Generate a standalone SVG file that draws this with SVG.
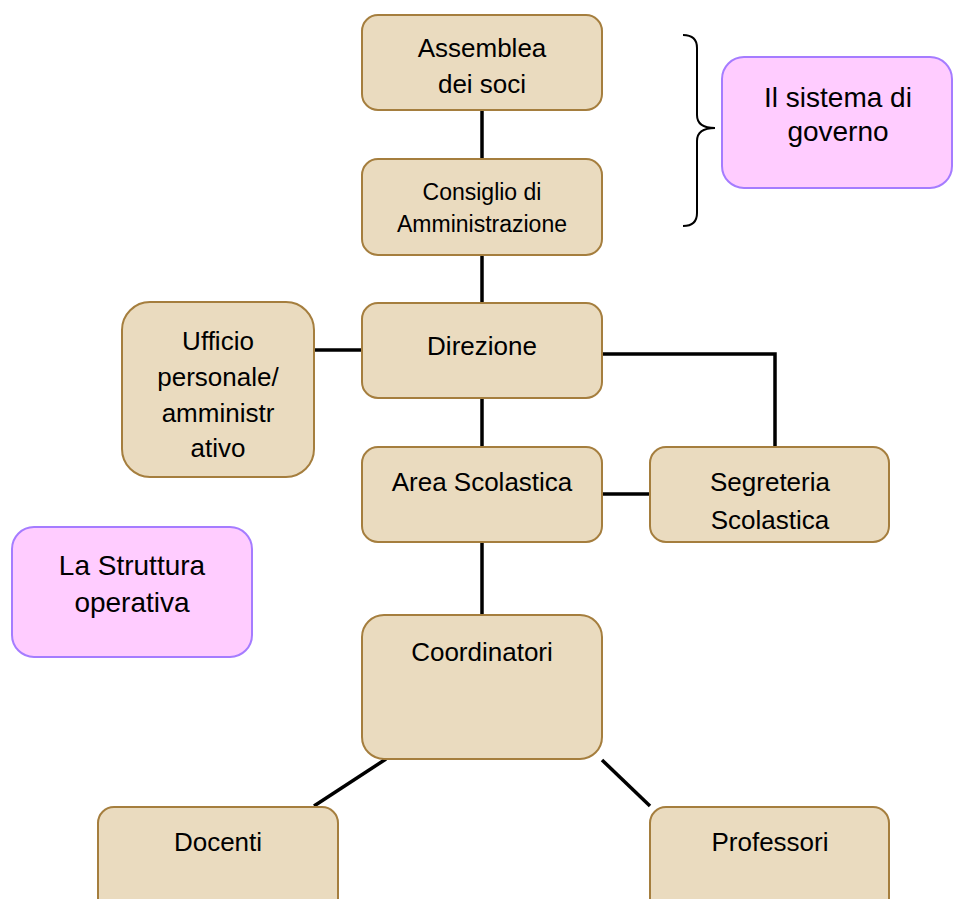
<svg xmlns="http://www.w3.org/2000/svg" width="954" height="899" viewBox="0 0 954 899">
<style>
.n{fill:#EADBBF;stroke:#A57E3E;stroke-width:2}
.p{fill:#FFCCFF;stroke:#A57CFF;stroke-width:2}
.c{stroke:#000;stroke-width:3.5;fill:none}
text{font-family:"Liberation Sans",Arial,sans-serif;fill:#000;text-anchor:middle}
.t{font-size:26px}
.s{font-size:23px}
.g{font-size:28px}
</style>
<rect width="954" height="899" fill="#fff"/>
<g id="connectors">
<line class="c" x1="482" y1="110" x2="482" y2="159"/>
<line class="c" x1="482" y1="255" x2="482" y2="303"/>
<line class="c" x1="314" y1="350" x2="362" y2="350"/>
<polyline class="c" points="602,354 775,354 775,447"/>
<line class="c" x1="482" y1="398" x2="482" y2="447"/>
<line class="c" x1="602" y1="494" x2="650" y2="494"/>
<line class="c" x1="482" y1="542" x2="482" y2="615"/>
<line class="c" x1="386" y1="759" x2="314" y2="806"/>
<line class="c" x1="602" y1="760" x2="650" y2="806"/>
</g>
<g id="brace">
<path d="M683,35 Q697,35 697,48 L697,115 Q697,128 715,128 Q697,128 697,141 L697,213 Q697,226 683,226" fill="none" stroke="#000" stroke-width="2"/>
</g>
<g id="assemblea">
<rect class="n" x="362" y="15" width="240" height="95" rx="16"/>
<text class="t" x="482" y="57">Assemblea</text>
<text class="t" x="482" y="93">dei soci</text>
</g>
<g id="consiglio">
<rect class="n" x="362" y="159" width="240" height="96" rx="16"/>
<text class="s" x="482" y="200">Consiglio di</text>
<text class="s" x="482" y="232">Amministrazione</text>
</g>
<g id="sistema">
<rect class="p" x="722" y="57" width="230" height="131" rx="22"/>
<text class="g" x="838" y="107">Il sistema di</text>
<text class="g" x="838" y="141">governo</text>
</g>
<g id="direzione">
<rect class="n" x="362" y="303" width="240" height="95" rx="16"/>
<text class="t" x="482" y="355">Direzione</text>
</g>
<g id="ufficio">
<rect class="n" x="122" y="302" width="192" height="175" rx="28"/>
<text class="t" x="218" y="350">Ufficio</text>
<text class="t" x="218" y="386">personale/</text>
<text class="t" x="218" y="422">amministr</text>
<text class="t" x="218" y="457">ativo</text>
</g>
<g id="area">
<rect class="n" x="362" y="447" width="240" height="95" rx="16"/>
<text class="t" x="482" y="491">Area Scolastica</text>
</g>
<g id="segreteria">
<rect class="n" x="650" y="447" width="239" height="95" rx="16"/>
<text class="t" x="770" y="491">Segreteria</text>
<text class="t" x="770" y="529">Scolastica</text>
</g>
<g id="struttura">
<rect class="p" x="12" y="527" width="240" height="130" rx="22"/>
<text class="g" x="132" y="575">La Struttura</text>
<text class="g" x="132" y="612">operativa</text>
</g>
<g id="coordinatori">
<rect class="n" x="362" y="615" width="240" height="144" rx="22"/>
<text class="t" x="482" y="661">Coordinatori</text>
</g>
<g id="docenti">
<rect class="n" x="98" y="807" width="240" height="110" rx="16"/>
<text class="t" x="218" y="851">Docenti</text>
</g>
<g id="professori">
<rect class="n" x="650" y="807" width="239" height="110" rx="16"/>
<text class="t" x="770" y="851">Professori</text>
</g>
</svg>
